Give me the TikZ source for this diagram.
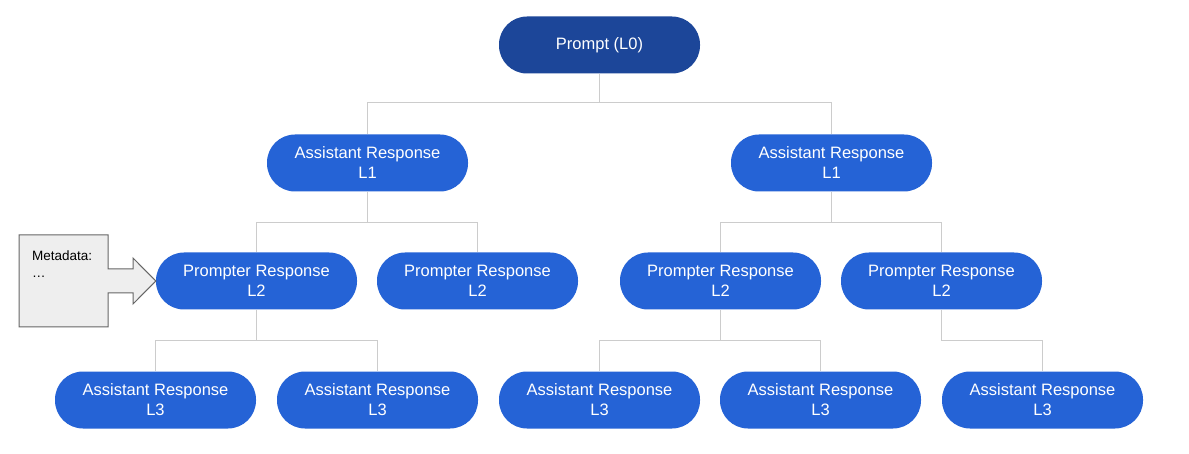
\documentclass[tikz,border=0pt]{standalone}
\usepackage{fontspec}
\setmainfont{Liberation Sans}
\definecolor{dkblue}{HTML}{1C4699}
\definecolor{nblue}{HTML}{2563D6}
\definecolor{linegray}{HTML}{CCCCCC}
\definecolor{metafill}{HTML}{EEEEEE}
\definecolor{metaline}{HTML}{666666}
\begin{document}
\begin{tikzpicture}[x=1pt,y=-1pt,
  pill/.style={fill=nblue, text=white, minimum width=201pt, minimum height=57pt,
    rounded corners=28pt, align=center, font=\fontsize{16.5}{20}\selectfont, inner sep=0pt},
  root/.style={pill, fill=dkblue},
  conn/.style={draw=linegray, line width=1.3pt},
  metashape/.style={fill=metafill, draw=metaline, line width=1pt},
  metatext/.style={anchor=north west, align=left, font=\fontsize{13.5}{17}\selectfont, inner sep=0pt, text=black}]
\useasboundingbox (0,0) rectangle (1189,454);
\fill[white] (0,0) rectangle (1189,454);
% nodes
\node[root] (p) at (599.5,45) {Prompt (L0)};
\node[pill] (a1) at (367.5,163) {Assistant Response\\L1};
\node[pill] (a2) at (831.5,163) {Assistant Response\\L1};
\node[pill] (q1) at (256.5,281) {Prompter Response\\L2};
\node[pill] (q2) at (477.5,281) {Prompter Response\\L2};
\node[pill] (q3) at (720.5,281) {Prompter Response\\L2};
\node[pill] (q4) at (941.5,281) {Prompter Response\\L2};
\node[pill] (r1) at (155.5,400) {Assistant Response\\L3};
\node[pill] (r2) at (377.5,400) {Assistant Response\\L3};
\node[pill] (r3) at (599.5,400) {Assistant Response\\L3};
\node[pill] (r4) at (820.5,400) {Assistant Response\\L3};
\node[pill] (r5) at (1042.5,400) {Assistant Response\\L3};
% connectors
\draw[conn] (p.south) -- ++(0,29) -| (a1.north);
\draw[conn] (p.south) -- ++(0,29) -| (a2.north);
\draw[conn] (a1.south) -- ++(0,31) -| (q1.north);
\draw[conn] (a1.south) -- ++(0,31) -| (q2.north);
\draw[conn] (a2.south) -- ++(0,31) -| (q3.north);
\draw[conn] (a2.south) -- ++(0,31) -| (q4.north);
\draw[conn] (q1.south) -- ++(0,31) -| (r1.north);
\draw[conn] (q1.south) -- ++(0,31) -| (r2.north);
\draw[conn] (q3.south) -- ++(0,31) -| (r3.north);
\draw[conn] (q3.south) -- ++(0,31) -| (r4.north);
\draw[conn] (q4.south) -- ++(0,31) -| (r5.north);
% metadata callout
\draw[metashape] (19,235) -- (108,235) -- (108,269) -- (133,269) -- (133,258)
  -- (q1.west) -- (133,304) -- (133,293) -- (108,293) -- (108,327) -- (19,327) -- cycle;
\node[metatext] (meta) at (32,251) {Metadata:\\…};
\end{tikzpicture}
\end{document}
